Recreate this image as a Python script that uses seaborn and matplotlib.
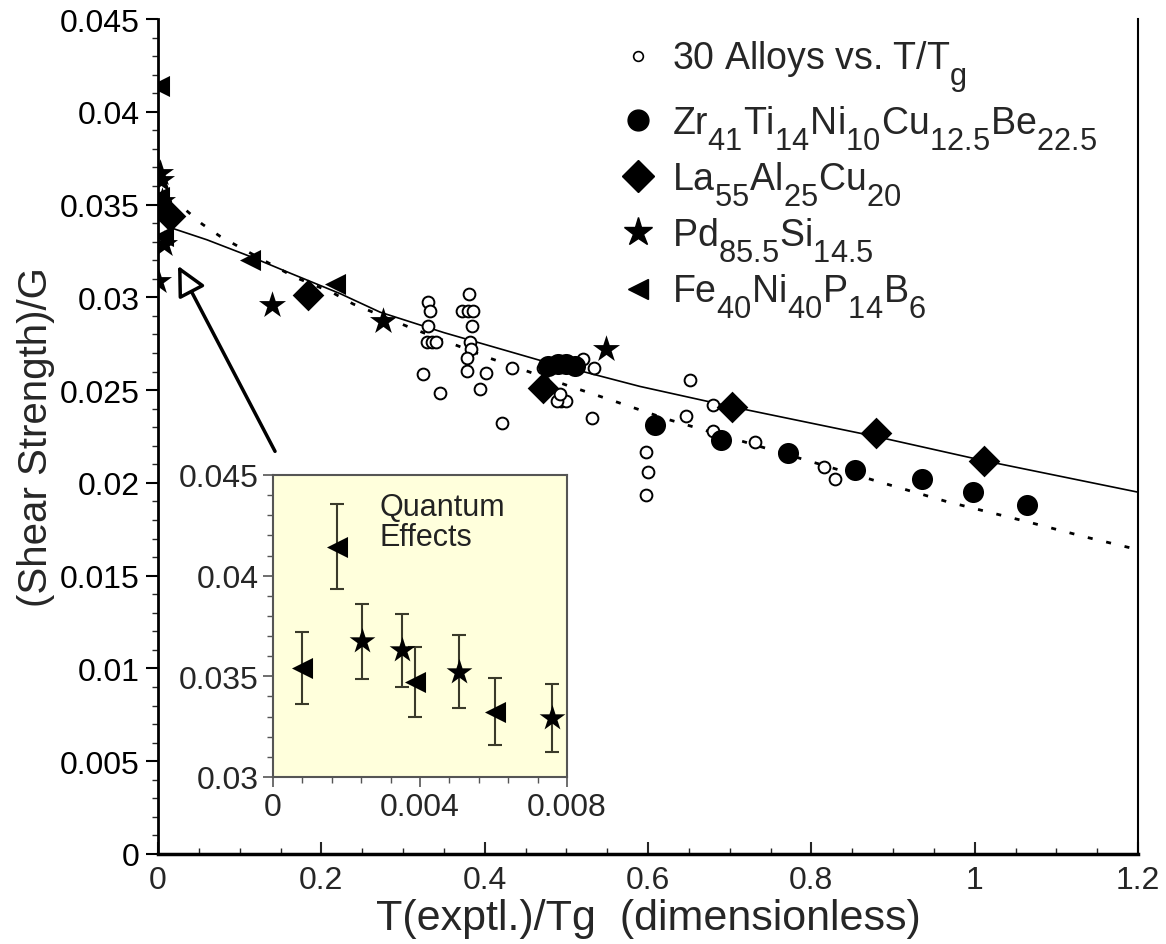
import matplotlib
matplotlib.use("Agg")
import matplotlib.pyplot as plt
import seaborn as sns
import numpy as np
import pandas as pd
from matplotlib.lines import Line2D
from matplotlib.ticker import MultipleLocator, FuncFormatter

try:  # large, deeply lowered subscripts, as in the reference legend
    import matplotlib._mathtext as _mt
    _mt.SHRINK_FACTOR = 0.82
    _mt.FontConstantsBase.subdrop = 0.8
    _mt.FontConstantsBase.sub1 = 0.8
except Exception:
    pass

# ---------------- data ----------------
# 30 alloys vs T/Tg (open circles)
alloys_x = [0.331, 0.333, 0.331, 0.329, 0.335, 0.341, 0.325, 0.345,
            0.381, 0.372, 0.380, 0.386, 0.384, 0.382, 0.383, 0.378, 0.378,
            0.402, 0.394, 0.421, 0.433,
            0.471, 0.494, 0.500, 0.488, 0.492, 0.521, 0.534, 0.531,
            0.598, 0.600, 0.598,
            0.651, 0.680, 0.647, 0.680, 0.731, 0.815, 0.829]
alloys_y = [0.02973, 0.02928, 0.02847, 0.02761, 0.02761, 0.02761, 0.02587, 0.02483,
            0.03018, 0.02928, 0.02928, 0.02928, 0.02847, 0.02758, 0.02721, 0.02673, 0.02605,
            0.02592, 0.02506, 0.02323, 0.02617,
            0.02620, 0.02440, 0.02440, 0.02440, 0.02480, 0.02665, 0.02620, 0.02350,
            0.02168, 0.02057, 0.01936,
            0.02554, 0.02420, 0.02362, 0.02281, 0.02222, 0.02084, 0.02021]

# Zr41Ti14Ni10Cu12.5Be22.5 (filled circles)
zr_x = [0.478, 0.490, 0.500, 0.510, 0.609, 0.689, 0.771, 0.853, 0.935, 0.998, 1.064]
zr_y = [0.0263, 0.0264, 0.0264, 0.0263, 0.0231, 0.0223, 0.0216, 0.0207, 0.0202, 0.0195, 0.0188]

# La55Al25Cu20 (diamonds)
la_x = [0.0147, 0.184, 0.472, 0.7025, 0.879, 1.011]
la_y = [0.0344, 0.0301, 0.0251, 0.0241, 0.0227, 0.0212]

# Pd85.5Si14.5 (stars)
pd_x = [0.0, 0.0024, 0.0035, 0.0051, 0.0076, 0.139, 0.276, 0.549]
pd_y = [0.0309, 0.0367, 0.0363, 0.0352, 0.0329, 0.0296, 0.0287, 0.0272]

# Fe40Ni40P14B6 (left triangles)
fe_x = [0.0008, 0.0017, 0.0039, 0.0060, 0.113, 0.217]
fe_y = [0.0354, 0.0414, 0.0347, 0.0333, 0.0320, 0.0307]

# fit curves
solid_x = [0.019, 0.06, 0.113, 0.162, 0.223, 0.272, 0.35, 0.468, 0.59, 0.703, 0.879, 1.011, 1.2]
solid_y = [0.0337, 0.0331, 0.0322, 0.0313, 0.0302, 0.0292, 0.0281, 0.0266, 0.0252, 0.0241, 0.0225, 0.0212, 0.0195]
dash_x = [0.035, 0.054, 0.076, 0.098, 0.145, 0.168, 0.213, 0.239, 0.311, 0.358, 0.407,
          0.456, 0.502, 0.551, 0.623, 0.745, 0.892, 0.966, 1.064, 1.137, 1.2]
dash_y = [0.03467, 0.03395, 0.03329, 0.03275, 0.03162, 0.03108, 0.03027, 0.02964, 0.02833,
          0.02754, 0.02671, 0.02596, 0.02524, 0.02452, 0.02344, 0.02186, 0.01994, 0.01899,
          0.01791, 0.01707, 0.0164]

# inset: low temperature data with error bars
fe_low_x = [0.00078, 0.00173, 0.00386, 0.00604]
fe_low_y = [0.03541, 0.04144, 0.03471, 0.03325]
fe_low_err = [0.0018, 0.0021, 0.00175, 0.00167]
pd_low_x = [0.00241, 0.0035, 0.00507, 0.00758]
pd_low_y = [0.03674, 0.03629, 0.03524, 0.03292]
pd_low_err = [0.00185, 0.0018, 0.0018, 0.0017]

legend_labels = [r"30 Alloys vs. T/T$_{\mathrm{g}}$",
                 r"Zr$_{41}$Ti$_{14}$Ni$_{10}$Cu$_{12.5}$Be$_{22.5}$",
                 r"La$_{55}$Al$_{25}$Cu$_{20}$",
                 r"Pd$_{85.5}$Si$_{14.5}$",
                 r"Fe$_{40}$Ni$_{40}$P$_{14}$B$_{6}$"]

# ---------------- style ----------------
sns.set_theme(style="ticks")
plt.rcParams["font.family"] = ["Liberation Sans", "DejaVu Sans"]
plt.rcParams["mathtext.fontset"] = "custom"
plt.rcParams["mathtext.rm"] = "Liberation Sans"
plt.rcParams["mathtext.it"] = "Liberation Sans:italic"
plt.rcParams["mathtext.bf"] = "Liberation Sans:bold"

W, H = 1166, 945
fig = plt.figure(figsize=(W / 100, H / 100), dpi=100)
ax = fig.add_axes([158 / W, (H - 855) / H, 980 / W, 835 / H])

# curves
sns.lineplot(x=solid_x, y=solid_y, ax=ax, color="black", lw=1.2, sort=False,
             estimator=None, zorder=2)
sns.lineplot(x=dash_x, y=dash_y, ax=ax, color="black", lw=2.0, sort=False,
             estimator=None, zorder=2)
ax.lines[-1].set_dashes((1.8, 5.0))

# scatter series
sns.scatterplot(x=alloys_x, y=alloys_y, ax=ax, marker="o", s=72, color="white",
                edgecolor="black", linewidth=1.4, zorder=3)
sns.scatterplot(x=zr_x, y=zr_y, ax=ax, marker="o", s=230, color="black",
                edgecolor="black", linewidth=0, zorder=4)
sns.scatterplot(x=la_x, y=la_y, ax=ax, marker="D", s=260, color="black",
                edgecolor="black", linewidth=0, zorder=4)
sns.scatterplot(x=pd_x, y=pd_y, ax=ax, marker="*", s=420, color="black",
                edgecolor="black", linewidth=0, zorder=4)
sns.scatterplot(x=fe_x, y=fe_y, ax=ax, marker="<", s=230, color="black",
                edgecolor="black", linewidth=0, zorder=4)

ax.set_xlim(0, 1.2)
ax.set_ylim(0, 0.045)
ax.xaxis.set_major_locator(MultipleLocator(0.2))
ax.xaxis.set_minor_locator(MultipleLocator(0.05))
ax.yaxis.set_major_locator(MultipleLocator(0.005))
ax.yaxis.set_minor_locator(MultipleLocator(0.001))
fmt = FuncFormatter(lambda v, p: "%g" % round(v, 6))
ax.xaxis.set_major_formatter(fmt)
ax.yaxis.set_major_formatter(fmt)
ax.tick_params(axis="y", which="major", direction="out", length=9, width=1.5,
               labelsize=23, pad=4, colors="black")
ax.tick_params(axis="y", which="minor", direction="out", length=4, width=1.0)
ax.tick_params(axis="x", which="major", direction="in", length=9, width=1.5,
               labelsize=23, pad=8)
ax.tick_params(axis="x", which="minor", direction="in", length=4, width=1.0)
ax.spines["top"].set_visible(False)
for s, lw in (("left", 2.0), ("bottom", 2.5), ("right", 1.5)):
    ax.spines[s].set_linewidth(lw)
    ax.spines[s].set_color("black")
ax.set_xlabel("T(exptl.)/Tg  (dimensionless)", fontsize=31, labelpad=2)
ax.set_ylabel("(Shear Strength)/G", fontsize=29, labelpad=4)

# arrow to the low-T cluster
ax.annotate("", xy=(0.0245, 0.0317), xytext=(0.1433, 0.0217),
            arrowprops=dict(arrowstyle="-|>,head_length=0.9,head_width=0.45",
                            fc="white", ec="black", lw=2.5, mutation_scale=20,
                            shrinkA=0, shrinkB=0), zorder=5)

# legend
handles = [
    Line2D([], [], ls="none", marker="o", ms=7, mfc="white", mec="black", mew=1.2),
    Line2D([], [], ls="none", marker="o", ms=15, mfc="black", mec="black"),
    Line2D([], [], ls="none", marker="D", ms=16, mfc="black", mec="black"),
    Line2D([], [], ls="none", marker="*", ms=21, mfc="black", mec="black"),
    Line2D([], [], ls="none", marker="<", ms=14, mfc="black", mec="black"),
]
leg = ax.legend(handles, legend_labels, loc="upper left",
                bbox_to_anchor=(619 / W, (H - 40) / H), bbox_transform=fig.transFigure,
                frameon=False, fontsize=27, handlelength=1.0, handletextpad=0.4,
                labelspacing=0.2, borderpad=0, borderaxespad=0)

# ---------------- inset ----------------
axin = fig.add_axes([273 / W, (H - 778) / H, 294 / W, 302 / H])
axin.set_facecolor("#ffffdc")
axin.errorbar(fe_low_x, fe_low_y, yerr=fe_low_err, fmt="none", ecolor="#3a3a2a",
              elinewidth=1.5, capsize=5, capthick=1.5, zorder=2)
axin.errorbar(pd_low_x, pd_low_y, yerr=pd_low_err, fmt="none", ecolor="#3a3a2a",
              elinewidth=1.5, capsize=5, capthick=1.5, zorder=2)
sns.scatterplot(x=fe_low_x, y=fe_low_y, ax=axin, marker="<", s=230, color="black",
                edgecolor="black", linewidth=0, zorder=3)
sns.scatterplot(x=pd_low_x, y=pd_low_y, ax=axin, marker="*", s=380, color="black",
                edgecolor="black", linewidth=0, zorder=3)
axin.set_xlim(0, 0.008)
axin.set_ylim(0.03, 0.045)
axin.set_xticks([0, 0.004, 0.008])
axin.xaxis.set_minor_locator(MultipleLocator(0.0008))
axin.yaxis.set_major_locator(MultipleLocator(0.005))
axin.yaxis.set_minor_locator(MultipleLocator(0.001))
axin.xaxis.set_major_formatter(fmt)
axin.yaxis.set_major_formatter(fmt)
axin.tick_params(which="major", direction="out", length=7, width=1.2,
                 labelsize=23, color="#555555")
axin.tick_params(which="minor", direction="out", length=4, width=1.0, color="#555555")
for s in axin.spines.values():
    s.set_color("#555555")
    s.set_linewidth(1.5)
axin.text(0.0029, 0.04265, "Quantum\nEffects", fontsize=22, ha="left",
          va="center", linespacing=1.0, color="#222222")

fig.savefig("out.png", dpi=100)
